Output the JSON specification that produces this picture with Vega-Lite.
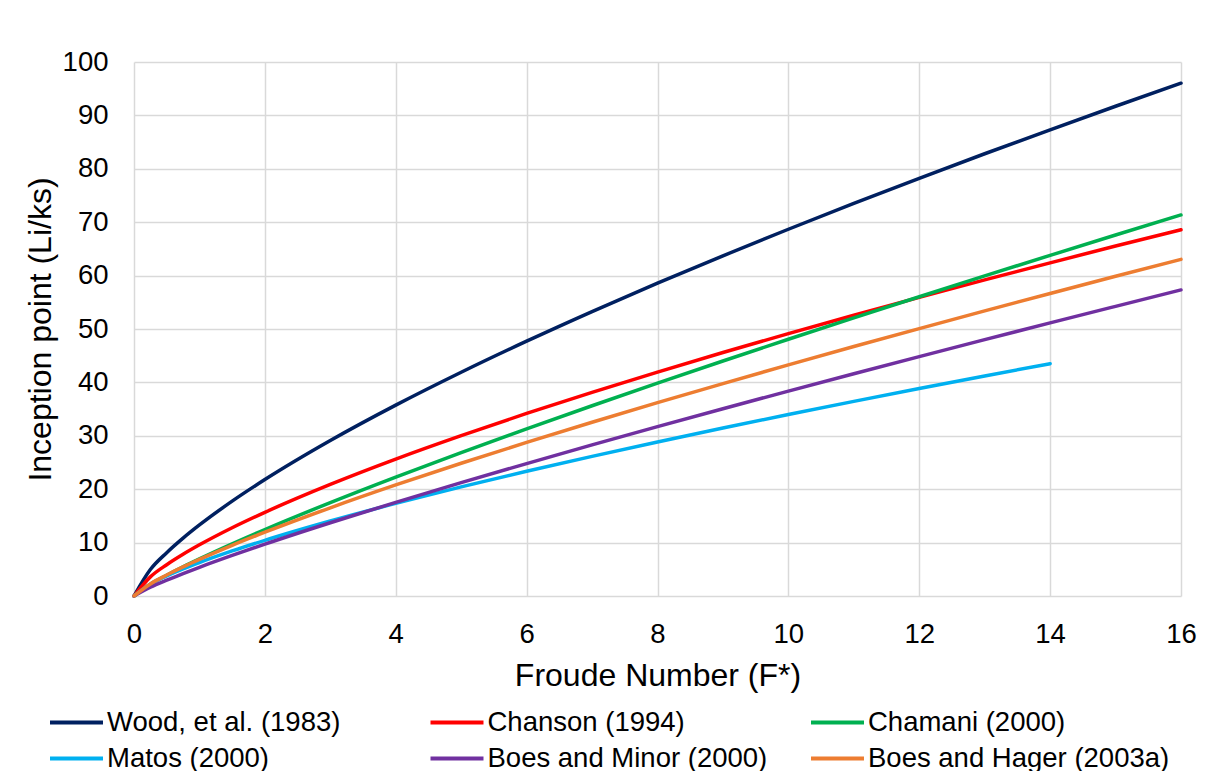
{
  "$schema": "https://vega.github.io/schema/vega-lite/v6.json",
  "autosize": {"type": "none"},
  "width": 1047,
  "height": 534,
  "padding": {"left": 134, "top": 62, "right": 27, "bottom": 175},
  "background": "white",
  "config": {
    "font": "Liberation Sans",
    "view": {"stroke": null},
    "axis": {
      "grid": true,
      "gridColor": "#d9d9d9",
      "gridWidth": 1.5,
      "domain": false,
      "ticks": false,
      "tickSize": 0,
      "labelFlush": false,
      "labelFont": "Liberation Sans",
      "labelFontSize": 27.5,
      "labelColor": "#000000",
      "titleFont": "Liberation Sans",
      "titleFontSize": 32,
      "titleFontWeight": "normal",
      "titleColor": "#000000"
    }
  },
  "data": {
    "values": [
      {"F": 0, "L": 0, "s": "Wood, et al. (1983)"},
      {"F": 0.25, "L": 4.95, "s": "Wood, et al. (1983)"},
      {"F": 0.5, "L": 8.11, "s": "Wood, et al. (1983)"},
      {"F": 0.75, "L": 10.83, "s": "Wood, et al. (1983)"},
      {"F": 1, "L": 13.3, "s": "Wood, et al. (1983)"},
      {"F": 1.5, "L": 17.76, "s": "Wood, et al. (1983)"},
      {"F": 2, "L": 21.8, "s": "Wood, et al. (1983)"},
      {"F": 3, "L": 29.11, "s": "Wood, et al. (1983)"},
      {"F": 4, "L": 35.74, "s": "Wood, et al. (1983)"},
      {"F": 5, "L": 41.9, "s": "Wood, et al. (1983)"},
      {"F": 6, "L": 47.72, "s": "Wood, et al. (1983)"},
      {"F": 7, "L": 53.27, "s": "Wood, et al. (1983)"},
      {"F": 8, "L": 58.58, "s": "Wood, et al. (1983)"},
      {"F": 9, "L": 63.71, "s": "Wood, et al. (1983)"},
      {"F": 10, "L": 68.68, "s": "Wood, et al. (1983)"},
      {"F": 11, "L": 73.51, "s": "Wood, et al. (1983)"},
      {"F": 12, "L": 78.22, "s": "Wood, et al. (1983)"},
      {"F": 13, "L": 82.82, "s": "Wood, et al. (1983)"},
      {"F": 14, "L": 87.3, "s": "Wood, et al. (1983)"},
      {"F": 15, "L": 91.71, "s": "Wood, et al. (1983)"},
      {"F": 16, "L": 96.03, "s": "Wood, et al. (1983)"},
      {"F": 0, "L": 0, "s": "Chanson (1994)"},
      {"F": 0.25, "L": 3.58, "s": "Chanson (1994)"},
      {"F": 0.5, "L": 5.86, "s": "Chanson (1994)"},
      {"F": 0.75, "L": 7.81, "s": "Chanson (1994)"},
      {"F": 1, "L": 9.58, "s": "Chanson (1994)"},
      {"F": 1.5, "L": 12.78, "s": "Chanson (1994)"},
      {"F": 2, "L": 15.67, "s": "Chanson (1994)"},
      {"F": 3, "L": 20.9, "s": "Chanson (1994)"},
      {"F": 4, "L": 25.64, "s": "Chanson (1994)"},
      {"F": 5, "L": 30.03, "s": "Chanson (1994)"},
      {"F": 6, "L": 34.19, "s": "Chanson (1994)"},
      {"F": 7, "L": 38.14, "s": "Chanson (1994)"},
      {"F": 8, "L": 41.93, "s": "Chanson (1994)"},
      {"F": 9, "L": 45.59, "s": "Chanson (1994)"},
      {"F": 10, "L": 49.14, "s": "Chanson (1994)"},
      {"F": 11, "L": 52.58, "s": "Chanson (1994)"},
      {"F": 12, "L": 55.93, "s": "Chanson (1994)"},
      {"F": 13, "L": 59.19, "s": "Chanson (1994)"},
      {"F": 14, "L": 62.39, "s": "Chanson (1994)"},
      {"F": 15, "L": 65.53, "s": "Chanson (1994)"},
      {"F": 16, "L": 68.59, "s": "Chanson (1994)"},
      {"F": 0, "L": 0, "s": "Chamani (2000)"},
      {"F": 0.25, "L": 2.17, "s": "Chamani (2000)"},
      {"F": 0.5, "L": 3.88, "s": "Chamani (2000)"},
      {"F": 0.75, "L": 5.46, "s": "Chamani (2000)"},
      {"F": 1, "L": 6.95, "s": "Chamani (2000)"},
      {"F": 1.5, "L": 9.77, "s": "Chamani (2000)"},
      {"F": 2, "L": 12.44, "s": "Chamani (2000)"},
      {"F": 3, "L": 17.49, "s": "Chamani (2000)"},
      {"F": 4, "L": 22.27, "s": "Chamani (2000)"},
      {"F": 5, "L": 26.86, "s": "Chamani (2000)"},
      {"F": 6, "L": 31.31, "s": "Chamani (2000)"},
      {"F": 7, "L": 35.63, "s": "Chamani (2000)"},
      {"F": 8, "L": 39.86, "s": "Chamani (2000)"},
      {"F": 9, "L": 44.01, "s": "Chamani (2000)"},
      {"F": 10, "L": 48.08, "s": "Chamani (2000)"},
      {"F": 11, "L": 52.09, "s": "Chamani (2000)"},
      {"F": 12, "L": 56.04, "s": "Chamani (2000)"},
      {"F": 13, "L": 59.94, "s": "Chamani (2000)"},
      {"F": 14, "L": 63.79, "s": "Chamani (2000)"},
      {"F": 15, "L": 67.6, "s": "Chamani (2000)"},
      {"F": 16, "L": 71.36, "s": "Chamani (2000)"},
      {"F": 0, "L": 0, "s": "Matos (2000)"},
      {"F": 0.25, "L": 2.27, "s": "Matos (2000)"},
      {"F": 0.5, "L": 3.77, "s": "Matos (2000)"},
      {"F": 0.75, "L": 5.08, "s": "Matos (2000)"},
      {"F": 1, "L": 6.27, "s": "Matos (2000)"},
      {"F": 1.5, "L": 8.44, "s": "Matos (2000)"},
      {"F": 2, "L": 10.43, "s": "Matos (2000)"},
      {"F": 3, "L": 14.04, "s": "Matos (2000)"},
      {"F": 4, "L": 17.34, "s": "Matos (2000)"},
      {"F": 5, "L": 20.43, "s": "Matos (2000)"},
      {"F": 6, "L": 23.36, "s": "Matos (2000)"},
      {"F": 7, "L": 26.15, "s": "Matos (2000)"},
      {"F": 8, "L": 28.85, "s": "Matos (2000)"},
      {"F": 9, "L": 31.45, "s": "Matos (2000)"},
      {"F": 10, "L": 33.98, "s": "Matos (2000)"},
      {"F": 11, "L": 36.45, "s": "Matos (2000)"},
      {"F": 12, "L": 38.85, "s": "Matos (2000)"},
      {"F": 13, "L": 41.2, "s": "Matos (2000)"},
      {"F": 14, "L": 43.51, "s": "Matos (2000)"},
      {"F": 0, "L": 0, "s": "Boes and Minor (2000)"},
      {"F": 0.25, "L": 1.64, "s": "Boes and Minor (2000)"},
      {"F": 0.5, "L": 2.97, "s": "Boes and Minor (2000)"},
      {"F": 0.75, "L": 4.2, "s": "Boes and Minor (2000)"},
      {"F": 1, "L": 5.37, "s": "Boes and Minor (2000)"},
      {"F": 1.5, "L": 7.59, "s": "Boes and Minor (2000)"},
      {"F": 2, "L": 9.71, "s": "Boes and Minor (2000)"},
      {"F": 3, "L": 13.72, "s": "Boes and Minor (2000)"},
      {"F": 4, "L": 17.54, "s": "Boes and Minor (2000)"},
      {"F": 5, "L": 21.23, "s": "Boes and Minor (2000)"},
      {"F": 6, "L": 24.8, "s": "Boes and Minor (2000)"},
      {"F": 7, "L": 28.29, "s": "Boes and Minor (2000)"},
      {"F": 8, "L": 31.71, "s": "Boes and Minor (2000)"},
      {"F": 9, "L": 35.07, "s": "Boes and Minor (2000)"},
      {"F": 10, "L": 38.37, "s": "Boes and Minor (2000)"},
      {"F": 11, "L": 41.62, "s": "Boes and Minor (2000)"},
      {"F": 12, "L": 44.83, "s": "Boes and Minor (2000)"},
      {"F": 13, "L": 48.0, "s": "Boes and Minor (2000)"},
      {"F": 14, "L": 51.14, "s": "Boes and Minor (2000)"},
      {"F": 15, "L": 54.24, "s": "Boes and Minor (2000)"},
      {"F": 16, "L": 57.32, "s": "Boes and Minor (2000)"},
      {"F": 0, "L": 0, "s": "Boes and Hager (2003a)"},
      {"F": 0.25, "L": 2.26, "s": "Boes and Hager (2003a)"},
      {"F": 0.5, "L": 3.94, "s": "Boes and Hager (2003a)"},
      {"F": 0.75, "L": 5.45, "s": "Boes and Hager (2003a)"},
      {"F": 1, "L": 6.86, "s": "Boes and Hager (2003a)"},
      {"F": 1.5, "L": 9.49, "s": "Boes and Hager (2003a)"},
      {"F": 2, "L": 11.94, "s": "Boes and Hager (2003a)"},
      {"F": 3, "L": 16.52, "s": "Boes and Hager (2003a)"},
      {"F": 4, "L": 20.8, "s": "Boes and Hager (2003a)"},
      {"F": 5, "L": 24.86, "s": "Boes and Hager (2003a)"},
      {"F": 6, "L": 28.76, "s": "Boes and Hager (2003a)"},
      {"F": 7, "L": 32.54, "s": "Boes and Hager (2003a)"},
      {"F": 8, "L": 36.21, "s": "Boes and Hager (2003a)"},
      {"F": 9, "L": 39.78, "s": "Boes and Hager (2003a)"},
      {"F": 10, "L": 43.28, "s": "Boes and Hager (2003a)"},
      {"F": 11, "L": 46.72, "s": "Boes and Hager (2003a)"},
      {"F": 12, "L": 50.08, "s": "Boes and Hager (2003a)"},
      {"F": 13, "L": 53.39, "s": "Boes and Hager (2003a)"},
      {"F": 14, "L": 56.66, "s": "Boes and Hager (2003a)"},
      {"F": 15, "L": 59.88, "s": "Boes and Hager (2003a)"},
      {"F": 16, "L": 63.04, "s": "Boes and Hager (2003a)"}
    ]
  },
  "mark": {"type": "line", "strokeWidth": 3.5, "interpolate": "monotone", "strokeCap": "round"},
  "encoding": {
    "x": {
      "field": "F", "type": "quantitative",
      "scale": {"domain": [0, 16], "nice": false, "zero": true},
      "axis": {"values": [0, 2, 4, 6, 8, 10, 12, 14, 16], "title": "Froude Number (F*)", "labelPadding": 24, "titlePadding": 13}
    },
    "y": {
      "field": "L", "type": "quantitative",
      "scale": {"domain": [0, 100], "nice": false},
      "axis": {"values": [0, 10, 20, 30, 40, 50, 60, 70, 80, 90, 100], "title": "Inception point (Li/ks)", "labelPadding": 26, "titlePadding": 5}
    },
    "color": {
      "field": "s", "type": "nominal",
      "scale": {
        "domain": ["Wood, et al. (1983)", "Chanson (1994)", "Chamani (2000)", "Matos (2000)", "Boes and Minor (2000)", "Boes and Hager (2003a)"],
        "range": ["#002060", "#ff0000", "#00b050", "#00b0f0", "#7030a0", "#ed7d31"]
      },
      "legend": {
        "title": null,
        "orient": "none",
        "legendX": -73,
        "legendY": 645,
        "direction": "horizontal",
        "columns": 3,
        "gridAlign": "all",
        "columnPadding": 13.5,
        "rowPadding": 7,
        "padding": 0,
        "symbolType": "M-2,0H2",
        "symbolSize": 702,
        "symbolStrokeWidth": 4,
        "labelFont": "Liberation Sans",
        "labelFontSize": 27.5,
        "labelColor": "#000000",
        "labelOffset": 15,
        "labelLimit": 400
      }
    }
  }
}
